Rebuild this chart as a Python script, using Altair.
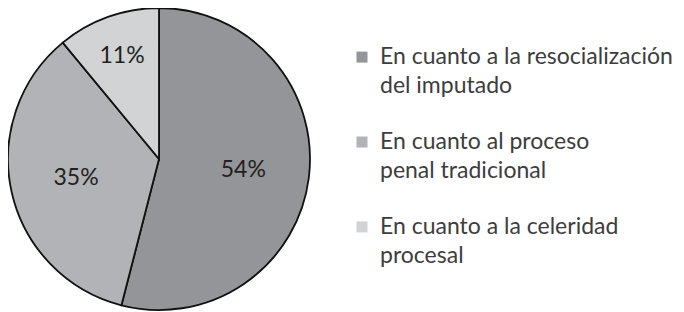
import altair as alt
import pandas as pd

categories = ["En cuanto a la resocialización del imputado",
              "En cuanto al proceso penal tradicional",
              "En cuanto a la celeridad procesal"]
legend_labels = ["En cuanto a la resocialización\ndel imputado",
                 "En cuanto al proceso\npenal tradicional",
                 "En cuanto a la celeridad\nprocesal"]
values = [54, 35, 11]
pct_labels = ["54%", "35%", "11%"]
colors = ["#939598", "#b1b3b6", "#d1d3d4"]

df = pd.DataFrame({
    "cat": categories,
    "legend": legend_labels,
    "value": values,
    "pct": pct_labels,
    "order": [0, 1, 2],
})

FONT = "Lato"
color_scale = alt.Scale(domain=categories, range=colors)

base = alt.Chart(df).encode(
    theta=alt.Theta("value:Q", stack=True),
    order=alt.Order("order:Q"),
).transform_calculate(
    big="datum.value >= 20 ? datum.pct : ''",
    small="datum.value < 20 ? datum.pct : ''",
)

arcs = base.mark_arc(outerRadius=151, stroke="#111111", strokeWidth=1.8).encode(
    color=alt.Color("cat:N", scale=color_scale, legend=None)
)

labels_big = base.mark_text(
    radius=85, fontSize=23, font=FONT, color="#231f20"
).encode(text="big:N")

labels_small = base.mark_text(
    radius=109, fontSize=23, font=FONT, color="#231f20"
).encode(text="small:N")

pie = alt.layer(arcs, labels_big, labels_small).properties(width=302, height=304)

leg_base = alt.Chart(df).encode(
    y=alt.Y("cat:N", sort=categories, axis=None,
            scale=alt.Scale(type="point", padding=0.59)),
)
squares = leg_base.mark_square(size=121, opacity=1).encode(
    x=alt.value(18),
    color=alt.Color("cat:N", scale=color_scale, legend=None),
)
texts = leg_base.mark_text(
    align="left", baseline="middle", fontSize=23, font=FONT,
    color="#3d3d3d", lineBreak="\n", lineHeight=29
).encode(x=alt.value(36), text="legend:N")

legend = alt.layer(squares, texts).properties(width=320, height=270)

chart = alt.hconcat(pie, legend, spacing=30).properties(
    padding={"left": -4, "top": -4, "right": 0, "bottom": 0},
).configure_view(stroke=None)

chart.save("out.html", embed_options={"renderer": "svg", "actions": False})
